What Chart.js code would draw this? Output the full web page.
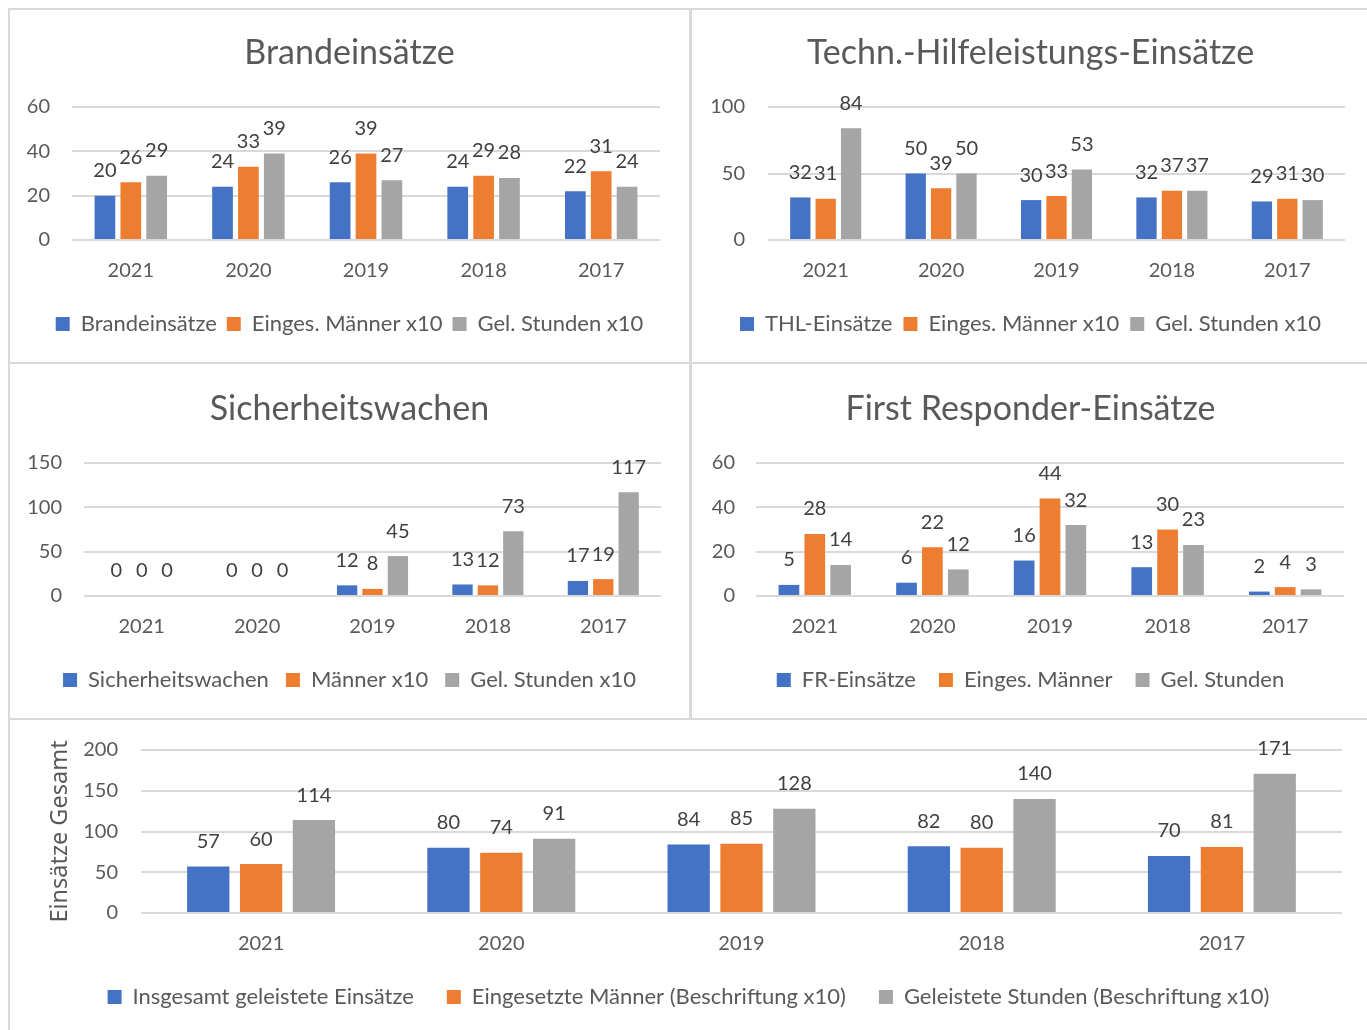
<!DOCTYPE html>
<html>
<head>
<meta charset="utf-8">
<script src="https://cdn.jsdelivr.net/npm/chart.js@4"></script>
<style>
  body { margin: 0; background: #fff; width: 1367px; height: 1030px; overflow: hidden; position: relative; }
  .panel { position: absolute; border: 2px solid #d9d9d9; box-sizing: border-box; }
  canvas { position: absolute; }
</style>
</head>
<body>
<div class="panel" style="left:8px;top:8px;width:683px;height:356px"></div>
<div class="panel" style="left:690px;top:8px;width:690px;height:356px"></div>
<div class="panel" style="left:8px;top:362px;width:683px;height:358px"></div>
<div class="panel" style="left:690px;top:362px;width:690px;height:358px"></div>
<div class="panel" style="left:8px;top:718px;width:1370px;height:330px"></div>

<canvas id="c1" width="679" height="351" style="left:10px;top:10px"></canvas>
<canvas id="c2" width="673" height="351" style="left:694px;top:10px"></canvas>
<canvas id="c3" width="679" height="351" style="left:10px;top:366px"></canvas>
<canvas id="c4" width="673" height="351" style="left:694px;top:366px"></canvas>
<canvas id="c5" width="1357" height="308" style="left:10px;top:722px"></canvas>

<script>
// data
const years = ["2021", "2020", "2019", "2018", "2017"];

const brandEinsaetze = [20, 24, 26, 24, 22];
const brandMaenner = [26, 33, 39, 29, 31];
const brandStunden = [29, 39, 27, 28, 24];

const thlEinsaetze = [32, 50, 30, 32, 29];
const thlMaenner = [31, 39, 33, 37, 31];
const thlStunden = [84, 50, 53, 37, 30];

const swWachen = [0, 0, 12, 13, 17];
const swMaenner = [0, 0, 8, 12, 19];
const swStunden = [0, 0, 45, 73, 117];

const frEinsaetze = [5, 6, 16, 13, 2];
const frMaenner = [28, 22, 44, 30, 4];
const frStunden = [14, 12, 32, 23, 3];

const gesEinsaetze = [57, 80, 84, 82, 70];
const gesMaenner = [60, 74, 85, 80, 81];
const gesStunden = [114, 91, 128, 140, 171];

const BLUE = "#4472C4", ORANGE = "#ED7D31", GRAY = "#A5A5A5";
const TEXT = "#595959";
const TITLE_SIZE = 34, TICK_SIZE = 20, LEG_SIZE = 22;

Chart.defaults.font.family = "Lato";
Chart.defaults.color = TEXT;

// value labels above bars
const valueLabels = {
  id: "valueLabels",
  afterDatasetsDraw(chart) {
    const ctx = chart.ctx;
    ctx.save();
    ctx.font = TICK_SIZE + "px Lato";
    ctx.fillStyle = "#404040";
    ctx.textAlign = "center";
    ctx.textBaseline = "middle";
    chart.data.datasets.forEach((ds, i) => {
      chart.getDatasetMeta(i).data.forEach((bar, j) => {
        ctx.fillText(ds.data[j], bar.x, bar.y - 25);
      });
    });
    ctx.restore();
  }
};

// box = canvas rect on the page, p = wanted positions on the page
const makeChart = (id, box, p, titleText, names, series, yMax, yStep, yTitle) => {
  const titleH = TITLE_SIZE * 1.2;
  const titleY = p.titleY || p.plotTop - 40;
  const xH = p.legendY - p.plotBottom - p.gap - LEG_SIZE / 2;
  const legH = LEG_SIZE + p.gap + 10;
  const padBottom = box.y + box.h - (p.plotBottom + xH + legH);

  const ctx = document.getElementById(id).getContext("2d");
  return new Chart(ctx, {
    type: "bar",
    data: {
      labels: years,
      datasets: series.map((d, i) => ({
        label: names[i],
        data: d,
        backgroundColor: [BLUE, ORANGE, GRAY][i],
        categoryPercentage: 0.66,
        barPercentage: 0.8
      }))
    },
    options: {
      responsive: false,
      animation: false,
      layout: { padding: { left: 0, right: 0, top: 0, bottom: padBottom } },
      plugins: {
        title: {
          display: true,
          text: titleText || "",
          color: TEXT,
          font: { size: TITLE_SIZE, weight: "normal" },
          padding: {
            top: titleY - box.y - titleH / 2,
            bottom: p.plotTop - titleY - titleH / 2
          }
        },
        legend: {
          position: "bottom",
          labels: {
            boxWidth: 14,
            boxHeight: 14,
            padding: p.gap,
            color: TEXT,
            font: { size: LEG_SIZE }
          }
        },
        tooltip: { enabled: false }
      },
      scales: {
        x: {
          grid: { display: false, drawTicks: false },
          border: { display: false },
          ticks: { padding: p.xLabelY - p.plotBottom - TICK_SIZE * 0.6, font: { size: TICK_SIZE }, color: TEXT },
          afterFit: s => { s.height = xH; s.paddingLeft = s.paddingRight = 0; }
        },
        y: {
          min: 0,
          max: yMax,
          grid: { color: "#d9d9d9", lineWidth: 2, drawTicks: false },
          border: { display: false },
          ticks: { stepSize: yStep, padding: p.plotLeft - p.yLabelRight, font: { size: TICK_SIZE }, color: TEXT },
          title: yTitle ? {
            display: true,
            text: yTitle,
            color: TEXT,
            font: { family: "Noto Sans", size: 23.5 },
            padding: { top: 36, bottom: 0 }
          } : { display: false },
          afterFit: s => { s.width = p.plotLeft - box.x; s.paddingTop = s.paddingBottom = 0; }
        },
        // empty right-hand axis, keeps the plot off the right edge so title and legend stay centred
        yRight: {
          type: "linear",
          position: "right",
          grid: { display: false },
          border: { display: false },
          ticks: { display: false },
          afterFit: s => { s.width = box.x + box.w - p.plotRight; s.paddingTop = s.paddingBottom = 0; }
        }
      }
    },
    plugins: [valueLabels]
  });
};

makeChart("c1", { x: 10, y: 10, w: 679, h: 351 },
  { plotLeft: 72, plotRight: 660, plotTop: 107, plotBottom: 240, yLabelRight: 50, titleY: 53, xLabelY: 271, legendY: 324, gap: 10 },
  "Brandeinsätze", ["Brandeinsätze", "Einges. Männer x10", "Gel. Stunden x10"],
  [brandEinsaetze, brandMaenner, brandStunden], 60, 20);

makeChart("c2", { x: 694, y: 10, w: 673, h: 351 },
  { plotLeft: 768, plotRight: 1345, plotTop: 107, plotBottom: 240, yLabelRight: 745, titleY: 53, xLabelY: 271, legendY: 324, gap: 11 },
  "Techn.-Hilfeleistungs-Einsätze", ["THL-Einsätze", "Einges. Männer x10", "Gel. Stunden x10"],
  [thlEinsaetze, thlMaenner, thlStunden], 100, 50);

makeChart("c3", { x: 10, y: 366, w: 679, h: 351 },
  { plotLeft: 84, plotRight: 661, plotTop: 463, plotBottom: 596, yLabelRight: 62, titleY: 409, xLabelY: 627, legendY: 680, gap: 17 },
  "Sicherheitswachen", ["Sicherheitswachen", "Männer x10", "Gel. Stunden x10"],
  [swWachen, swMaenner, swStunden], 150, 50);

makeChart("c4", { x: 694, y: 366, w: 673, h: 351 },
  { plotLeft: 756, plotRight: 1344, plotTop: 463, plotBottom: 596, yLabelRight: 735, titleY: 409, xLabelY: 627, legendY: 680, gap: 23 },
  "First Responder-Einsätze", ["FR-Einsätze", "Einges. Männer", "Gel. Stunden"],
  [frEinsaetze, frMaenner, frStunden], 60, 20);

makeChart("c5", { x: 10, y: 722, w: 1357, h: 308 },
  { plotLeft: 141, plotRight: 1342, plotTop: 750, plotBottom: 913, yLabelRight: 118, xLabelY: 944, legendY: 997, gap: 33 },
  null, ["Insgesamt geleistete Einsätze", "Eingesetzte Männer (Beschriftung x10)", "Geleistete Stunden (Beschriftung x10)"],
  [gesEinsaetze, gesMaenner, gesStunden], 200, 50, "Einsätze Gesamt");
</script>
</body>
</html>
